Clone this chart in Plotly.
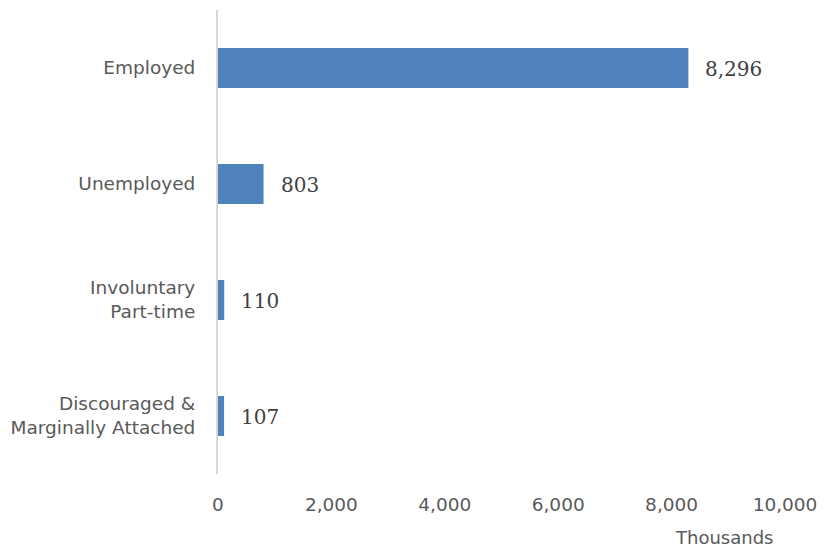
import plotly.graph_objects as go

categories = ["Employed", "Unemployed", "Involuntary<br>Part-time", "Discouraged &<br>Marginally Attached"]
values = [8296, 803, 110, 107]
value_labels = ["8,296", "803", "110", "107"]
x_ticks = [0, 2000, 4000, 6000, 8000, 10000]
x_tick_labels = ["0", "2,000", "4,000", "6,000", "8,000", "10,000"]

fig = go.Figure()
fig.add_trace(go.Bar(
    y=categories, x=values, orientation="h",
    marker=dict(color="#4F81BD", line=dict(width=0)),
    width=0.345, hoverinfo="skip",
))

for c, v, t in zip(categories, values, value_labels):
    fig.add_annotation(x=v, y=c, text=t, showarrow=False, xanchor="left",
                       xshift=15, yshift=-1,
                       font=dict(family="DejaVu Serif", size=20, color="#404040"))

fig.add_annotation(xref="paper", yref="paper", x=0.983, y=-0.136, xanchor="right",
                   yanchor="middle", text="Thousands", showarrow=False,
                   font=dict(family="DejaVu Sans", size=18, color="#595959"))

fig.update_layout(
    width=824, height=540,
    margin=dict(l=210, r=47, t=2, b=74),
    plot_bgcolor="white", paper_bgcolor="white",
    showlegend=False,
    font=dict(family="DejaVu Sans", size=18, color="#595959"),
)
fig.update_xaxes(range=[0, 10000], tickvals=x_ticks, ticktext=x_tick_labels,
                 showgrid=False, zeroline=False, showline=False,
                 ticks="", ticklabelstandoff=17,
                 tickfont=dict(family="DejaVu Sans", size=18.5, color="#595959"))
fig.update_yaxes(autorange="reversed", showgrid=False, zeroline=False,
                 showline=True, linecolor="#D9D9D9", linewidth=2,
                 ticks="", ticklabelstandoff=17,
                 tickfont=dict(family="DejaVu Sans", size=18.5, color="#595959"))

fig.write_html("out.html")
